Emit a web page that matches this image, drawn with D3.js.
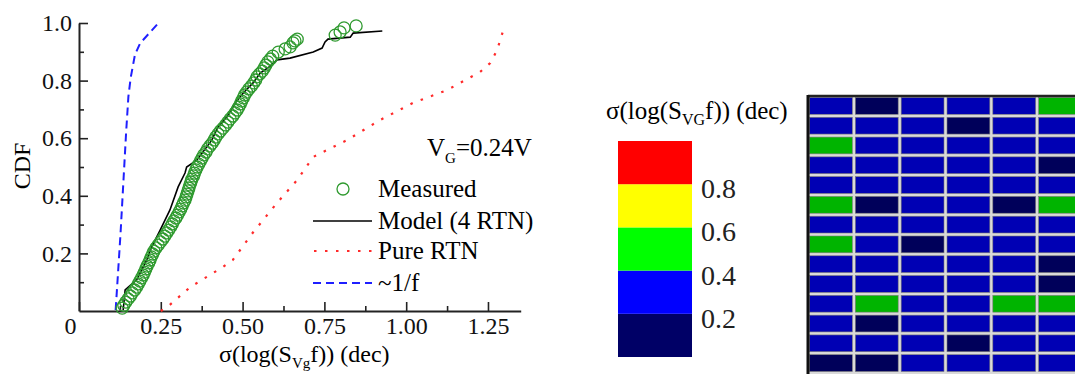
<!DOCTYPE html>
<html>
<head>
<meta charset="utf-8">
<script src="https://cdn.jsdelivr.net/npm/d3@7"></script>
<style>
  body { margin: 0; background: #fff; }
  svg { display: block; }
</style>
</head>
<body>
<svg id="chart" width="1075" height="374"></svg>
<script>
// ---- data ----
var xTicks = [0, 0.25, 0.5, 0.75, 1.0, 1.25],
    xMinor = [0.125, 0.375, 0.625, 0.875, 1.125],
    yTicks = [0.2, 0.4, 0.6, 0.8, 1.0],
    yMinor = [0.1, 0.3, 0.5, 0.7, 0.9];

// measured CDF (green circles)
var measX = [0.132,0.137,0.143,0.150,0.157,0.163,0.170,0.176,0.181,0.186,0.191,0.196,0.200,0.204,0.208,
             0.213,0.217,0.221,0.225,0.229,0.235,0.242,0.249,0.256,0.262,0.268,0.274,0.280,0.285,0.290,
             0.296,0.301,0.306,0.311,0.315,0.319,0.324,0.327,0.330,0.333,0.336,0.339,0.342,0.345,0.350,
             0.353,0.357,0.361,0.366,0.371,0.376,0.381,0.388,0.393,0.400,0.407,0.413,0.418,0.425,0.432,
             0.440,0.448,0.455,0.462,0.470,0.477,0.483,0.488,0.493,0.497,0.502,0.506,0.512,0.519,0.527,
             0.534,0.540,0.544,0.552,0.560,0.566,0.571,0.577,0.585,0.592,0.609,0.630,0.645,0.654,0.660,
             0.667,0.783,0.798,0.810,0.847];
var measY = [0.010,0.020,0.031,0.042,0.052,0.063,0.073,0.083,0.094,0.104,0.115,0.125,0.135,0.146,0.156,
             0.167,0.177,0.188,0.198,0.208,0.219,0.229,0.240,0.250,0.260,0.271,0.281,0.292,0.302,0.313,
             0.323,0.333,0.344,0.354,0.365,0.375,0.385,0.396,0.406,0.417,0.427,0.438,0.448,0.458,0.469,
             0.479,0.490,0.500,0.510,0.521,0.531,0.542,0.552,0.563,0.573,0.583,0.594,0.604,0.615,0.625,
             0.635,0.646,0.656,0.667,0.677,0.688,0.698,0.708,0.719,0.729,0.740,0.750,0.760,0.771,0.781,
             0.792,0.802,0.813,0.823,0.833,0.844,0.854,0.865,0.875,0.885,0.899,0.910,0.917,0.931,0.938,
             0.944,0.958,0.969,0.983,0.990];

// model (4 RTN), black line
var modelX = [0.135,0.141,0.176,0.207,0.222,0.248,0.278,0.303,0.324,0.329,0.360,0.390,0.406,0.425,0.452,
              0.477,0.502,0.532,0.554,0.589,0.605,0.645,0.716,0.743,0.752,0.761,0.829,0.838,0.927];
var modelY = [0.003,0.073,0.108,0.177,0.222,0.281,0.351,0.431,0.479,0.500,0.524,0.569,0.594,0.639,0.674,
              0.722,0.757,0.792,0.826,0.854,0.872,0.878,0.899,0.913,0.934,0.944,0.951,0.965,0.972];

// pure RTN, red dotted
var pureX = [0.25,0.27,0.34,0.44,0.47,0.53,0.605,0.667,0.716,0.82,0.92,1.02,1.125,1.226,1.257,1.278,1.294,1.30];
var pureY = [0,0.014,0.083,0.153,0.177,0.27,0.375,0.455,0.535,0.594,0.663,0.722,0.767,0.83,0.861,0.906,0.965,0.983];

// ~1/f, blue dashed
var oneFX = [0.112,0.127,0.136,0.144,0.151,0.158,0.171,0.187,0.243];
var oneFY = [0.003,0.27,0.455,0.62,0.745,0.81,0.89,0.93,1.0];

var legendLabels = ["Measured", "Model (4 RTN)", "Pure RTN", "~1/f"];

// colour bar
var cbEdges  = [0, 0.2, 0.4, 0.6, 0.8, 1.0],
    cbLabels = [0.2, 0.4, 0.6, 0.8],
    cbColors = ["#000066", "#0000ff", "#00ff00", "#ffff00", "#ff0000"],
    cellColors = ["#00005a", "#0000b4", "#00b400", "#b4b400", "#b40000"];

// map of sigma per device (rows x columns, bin mid values)
var heatRows = [
  [0.3, 0.1, 0.3, 0.3, 0.3, 0.5],
  [0.3, 0.3, 0.3, 0.1, 0.3, 0.3],
  [0.5, 0.3, 0.3, 0.3, 0.3, 0.3],
  [0.3, 0.3, 0.3, 0.3, 0.3, 0.1],
  [0.3, 0.3, 0.3, 0.3, 0.3, 0.3],
  [0.5, 0.1, 0.3, 0.3, 0.1, 0.5],
  [0.3, 0.3, 0.3, 0.3, 0.3, 0.3],
  [0.5, 0.3, 0.1, 0.3, 0.3, 0.3],
  [0.3, 0.3, 0.3, 0.3, 0.3, 0.1],
  [0.3, 0.3, 0.3, 0.3, 0.3, 0.1],
  [0.3, 0.5, 0.3, 0.3, 0.5, 0.5],
  [0.3, 0.1, 0.3, 0.3, 0.3, 0.3],
  [0.3, 0.3, 0.3, 0.1, 0.3, 0.3],
  [0.1, 0.1, 0.3, 0.3, 0.3, 0.3]
];

// ---- left plot ----
var svg = d3.select("#chart");
svg.append("rect").attr("width", 1075).attr("height", 374).attr("fill", "#fff");

var x = d3.scaleLinear().domain([0, 1.35]).range([79, 520.7]);
var y = d3.scaleLinear().domain([0, 1]).range([311, 23]);
var axisCol = "#222";

var gx = svg.append("g").attr("transform", "translate(0,311)")
    .call(d3.axisBottom(x).tickValues(xTicks).tickSizeInner(-9).tickSizeOuter(0).tickPadding(6)
          .tickFormat(d => d === 0 ? "0" : d3.format(".2f")(d)));
svg.append("g").attr("transform", "translate(0,311)")
    .call(d3.axisBottom(x).tickValues(xMinor).tickSizeInner(-5).tickSizeOuter(0).tickFormat(""))
    .select(".domain").remove();

var gy = svg.append("g").attr("transform", "translate(79,0)")
    .call(d3.axisLeft(y).tickValues(yTicks).tickSizeInner(-9).tickSizeOuter(0).tickPadding(7)
          .tickFormat(d3.format(".1f")));
svg.append("g").attr("transform", "translate(79,0)")
    .call(d3.axisLeft(y).tickValues(yMinor).tickSizeInner(-5).tickSizeOuter(0).tickFormat(""))
    .select(".domain").remove();

svg.selectAll(".domain").attr("stroke", axisCol).attr("stroke-width", 2);
svg.selectAll(".tick line").attr("stroke", axisCol).attr("stroke-width", 1.6);
svg.selectAll(".tick text").attr("font-size", 24).attr("fill", "#111");
gx.selectAll(".tick text").filter(d => d === 0).attr("dx", -9);

svg.append("text")
   .attr("transform", "translate(30,166) rotate(-90)")
   .attr("text-anchor", "middle")
   .attr("font-size", 24)
   .text("CDF");

var xt = svg.append("text").attr("x", 219).attr("y", 362).attr("font-size", 24);
xt.append("tspan").text("σ(log(S");
xt.append("tspan").attr("dy", 6).attr("font-size", 15).text("Vg");
xt.append("tspan").attr("dy", -6).text("f)) (dec)");

var line = d3.line().x(d => x(d[0])).y(d => y(d[1]));

svg.append("path")
   .datum(d3.zip(pureX, pureY))
   .attr("d", line)
   .attr("fill", "none")
   .attr("stroke", "#ff2a2a")
   .attr("stroke-width", 2.2)
   .attr("stroke-dasharray", "2.5,8.5");

svg.append("path")
   .datum(d3.zip(oneFX, oneFY))
   .attr("d", line)
   .attr("fill", "none")
   .attr("stroke", "#1f1fff")
   .attr("stroke-width", 2)
   .attr("stroke-dasharray", "8,5");

svg.append("path")
   .datum(d3.zip(modelX, modelY))
   .attr("d", line)
   .attr("fill", "none")
   .attr("stroke", "#000")
   .attr("stroke-width", 1.6);

svg.append("g")
   .selectAll("circle")
   .data(d3.zip(measX, measY))
   .enter()
   .append("circle")
   .attr("cx", d => x(d[0]))
   .attr("cy", d => y(d[1]))
   .attr("r", 6)
   .attr("fill", "none")
   .attr("stroke", "#2f9a2f")
   .attr("stroke-width", 1.3);

// V_G label
var vg = svg.append("text").attr("x", 427).attr("y", 156).attr("font-size", 25);
vg.append("tspan").text("V");
vg.append("tspan").attr("dy", 7).attr("font-size", 15).text("G");
vg.append("tspan").attr("dy", -7).text("=0.24V");

// legend
var legY = [189, 221, 251, 283];
var leg = svg.append("g")
   .selectAll("g")
   .data(legendLabels)
   .enter()
   .append("g")
   .attr("transform", (d, i) => "translate(0," + legY[i] + ")");

leg.append("text")
   .attr("x", 378)
   .attr("y", 8)
   .attr("font-size", 25)
   .text(d => d);

leg.filter((d, i) => i === 0).append("circle")
   .attr("cx", 343).attr("r", 6)
   .attr("fill", "none").attr("stroke", "#2f9a2f").attr("stroke-width", 1.3);
leg.filter((d, i) => i === 1).append("line")
   .attr("x1", 313).attr("x2", 372).attr("stroke", "#000").attr("stroke-width", 1.6);
leg.filter((d, i) => i === 2).append("line")
   .attr("x1", 314).attr("x2", 372).attr("stroke", "#ff2a2a").attr("stroke-width", 2.2)
   .attr("stroke-dasharray", "2.5,8.5");
leg.filter((d, i) => i === 3).append("line")
   .attr("x1", 313).attr("x2", 372).attr("stroke", "#1f1fff").attr("stroke-width", 2)
   .attr("stroke-dasharray", "8,5");

// ---- colour bar ----
var cbY = d3.scaleLinear().domain([0, 1]).range([357, 141]);

svg.append("g")
   .selectAll("rect")
   .data(d3.pairs(cbEdges))
   .enter()
   .append("rect")
   .attr("x", 618)
   .attr("width", 74)
   .attr("y", d => cbY(d[1]))
   .attr("height", d => cbY(d[0]) - cbY(d[1]))
   .attr("fill", (d, i) => cbColors[i]);

svg.append("g")
   .selectAll("text")
   .data(cbLabels)
   .enter()
   .append("text")
   .attr("x", 701)
   .attr("y", d => cbY(d) + 14)
   .attr("font-size", 28)
   .attr("fill", "#222")
   .text(d3.format(".1f"));

var ct = svg.append("text").attr("x", 606).attr("y", 119).attr("font-size", 25);
ct.append("tspan").text("σ(log(S");
ct.append("tspan").attr("dy", 6).attr("font-size", 16).text("VG");
ct.append("tspan").attr("dy", -6).text("f)) (dec)");

// ---- device map ----
var cellColor = d3.scaleThreshold().domain(cbLabels).range(cellColors);
var cx = d3.scaleBand().domain(d3.range(6)).range([808, 1083]);
var cy = d3.scaleBand().domain(d3.range(heatRows.length)).range([96, 373]);

svg.append("rect")
   .attr("x", 808).attr("y", 96).attr("width", 275).attr("height", 280)
   .attr("fill", "#d9d9d9");

svg.append("g")
   .selectAll("g")
   .data(heatRows)
   .enter()
   .append("g")
   .attr("transform", (r, i) => "translate(0," + cy(i) + ")")
   .selectAll("rect")
   .data(r => r)
   .enter()
   .append("rect")
   .attr("x", (d, j) => cx(j) + 1.5)
   .attr("y", 1.5)
   .attr("width", cx.bandwidth() - 3)
   .attr("height", cy.bandwidth() - 3)
   .attr("fill", d => cellColor(d))
   .attr("stroke", "#7a7a7a")
   .attr("stroke-width", 0.6);

svg.append("line").attr("x1", 808).attr("x2", 1075).attr("y1", 96).attr("y2", 96)
   .attr("stroke", "#222").attr("stroke-width", 2.5);
svg.append("line").attr("x1", 808).attr("x2", 808).attr("y1", 95).attr("y2", 374)
   .attr("stroke", "#111").attr("stroke-width", 3);

// serif face everywhere, set inline so it wins over the axis defaults
svg.selectAll("g").attr("font-family", null);
svg.selectAll("text").style("font-family", "'Liberation Serif', 'Times New Roman', serif");
</script>
</body>
</html>
